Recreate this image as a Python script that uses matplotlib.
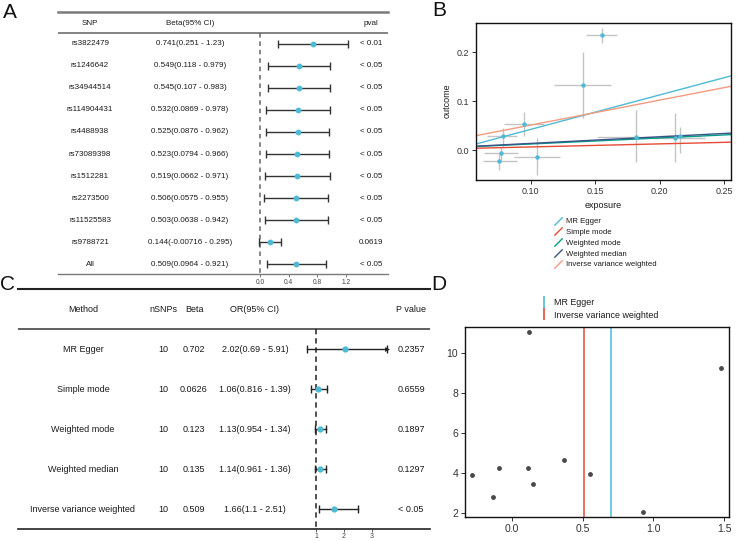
import matplotlib
matplotlib.use('Agg')
import matplotlib.pyplot as plt
import numpy as np
from matplotlib.lines import Line2D
from matplotlib.path import Path
from matplotlib.transforms import blended_transform_factory

plt.rcParams['font.family'] = ['Liberation Sans', 'DejaVu Sans']

# ---------------- data ----------------
# Panel A: single SNP forest
snps_A = ["rs3822479", "rs1246642", "rs34944514", "rs114904431", "rs4488938",
          "rs73089398", "rs1512281", "rs2273500", "rs11525583", "rs9788721", "All"]
beta_A = [0.741, 0.549, 0.545, 0.532, 0.525, 0.523, 0.519, 0.506, 0.503, 0.144, 0.509]
lo_A = [0.251, 0.118, 0.107, 0.0869, 0.0876, 0.0794, 0.0662, 0.0575, 0.0638, -0.00716, 0.0964]
hi_A = [1.23, 0.979, 0.983, 0.978, 0.962, 0.966, 0.971, 0.955, 0.942, 0.295, 0.921]
ci_text_A = ["0.741(0.251 - 1.23)", "0.549(0.118 - 0.979)", "0.545(0.107 - 0.983)",
             "0.532(0.0869 - 0.978)", "0.525(0.0876 - 0.962)", "0.523(0.0794 - 0.966)",
             "0.519(0.0662 - 0.971)", "0.506(0.0575 - 0.955)", "0.503(0.0638 - 0.942)",
             "0.144(-0.00716 - 0.295)", "0.509(0.0964 - 0.921)"]
pval_A = ["< 0.01", "< 0.05", "< 0.05", "< 0.05", "< 0.05", "< 0.05", "< 0.05",
          "< 0.05", "< 0.05", "0.0619", "< 0.05"]
ticks_A = [0.0, 0.4, 0.8, 1.2]

# Panel B: scatter
bx = [0.155, 0.1406, 0.0948, 0.078, 0.0765, 0.075, 0.105, 0.182, 0.2123, 0.2155]
bx_lo = [0.143, 0.118, 0.079, 0.0656, 0.0638, 0.0625, 0.0868, 0.151, 0.195, 0.200]
bx_hi = [0.167, 0.1626, 0.110, 0.089, 0.090, 0.0889, 0.123, 0.218, 0.235, 0.232]
by = [0.234, 0.132, 0.053, 0.0285, -0.0068, -0.0217, -0.0136, 0.027, 0.0245, 0.028]
by_lo = [0.218, 0.066, 0.028, 0.007, -0.020, -0.041, -0.051, -0.025, -0.025, -0.006]
by_hi = [0.249, 0.199, 0.077, 0.044, 0.007, -0.008, 0.024, 0.081, 0.075, 0.047]
methods = ["MR Egger", "Simple mode", "Weighted mode", "Weighted median",
           "Inverse variance weighted"]
slopes = [0.702, 0.0626, 0.123, 0.135, 0.509]
intercepts = [-0.028, 0.0, 0.0, 0.0, 0.0]
method_colors = ["#4DBBD5", "#E64B35", "#00A087", "#3C5488", "#F39B7F"]

# Panel C: method forest
nsnp_C = ["10", "10", "10", "10", "10"]
beta_C = ["0.702", "0.0626", "0.123", "0.135", "0.509"]
or_C = [2.02, 1.06, 1.13, 1.14, 1.66]
or_lo_C = [0.69, 0.816, 0.954, 0.961, 1.1]
or_hi_C = [5.91, 1.39, 1.34, 1.36, 2.51]
or_text_C = ["2.02(0.69 - 5.91)", "1.06(0.816 - 1.39)", "1.13(0.954 - 1.34)",
             "1.14(0.961 - 1.36)", "1.66(1.1 - 2.51)"]
pval_C = ["0.2357", "0.6559", "0.1897", "0.1297", "< 0.05"]
ticks_C = [1, 2, 3]
xmax_C = 3.55

# Panel D: funnel
dx = [0.122, 1.48, -0.281, -0.132, -0.092, 0.113, 0.146, 0.366, 0.552, 0.925]
dy = [11.03, 9.27, 3.92, 2.79, 4.25, 4.25, 3.44, 4.67, 3.95, 2.07]
funnel_methods = ["MR Egger", "Inverse variance weighted"]
funnel_est = [0.702, 0.509]
funnel_colors = ["#4DBBD5", "#E64B35"]

# ---------------- figure ----------------
W, H = 741, 541
fig = plt.figure(figsize=(W / 100, H / 100), dpi=100)


def rect(x0, y0, x1, y1):
    return [x0 / W, 1 - y1 / H, (x1 - x0) / W, (y1 - y0) / H]


TXT = "#1a1a1a"
PT_COL = "#4DBBD5"

# ---------- Panel A ----------
axA = fig.add_axes(rect(58, 12, 388, 274))
sc = 71.67
axA.set_xlim((58 - 260) / sc, (388 - 260) / sc)
axA.set_ylim(10.4545, -1.4545)
for s in ["left", "right"]:
    axA.spines[s].set_visible(False)
axA.spines["top"].set_color("#7a7a7a")
axA.spines["top"].set_linewidth(1.8)
axA.spines["bottom"].set_color("#7a7a7a")
axA.spines["bottom"].set_linewidth(1.0)
axA.axhline(-0.5, color="#7a7a7a", lw=1.3)
axA.set_yticks([])
axA.set_xticks(ticks_A)
axA.set_xticklabels([f"{t:.1f}" for t in ticks_A], fontsize=4.8, color="#444")
axA.tick_params(axis="x", length=2, width=0.6, color="#666", pad=1.5)
rowsA = np.arange(len(snps_A))
axA.vlines(0, -0.5, 10.4545, colors="#666", linestyles=(0, (3, 2.5)), lw=1.1)
bA = np.array(beta_A)
axA.errorbar(bA, rowsA, xerr=[bA - np.array(lo_A), np.array(hi_A) - bA], fmt="none",
             ecolor="#333", elinewidth=1.0, capsize=3, capthick=1.0)
axA.plot(bA, rowsA, "o", color=PT_COL, ms=4.2, mec="none", zorder=5)
trA = blended_transform_factory(axA.transAxes, axA.transData)
hdr_y = -0.9545
axA.text((90 - 58) / 330, hdr_y, "SNP", transform=trA, ha="center", va="center", fontsize=5.8, color=TXT)
axA.text((190 - 58) / 330, hdr_y, "Beta(95% CI)", transform=trA, ha="center", va="center", fontsize=5.8, color=TXT)
axA.text((371 - 58) / 330, hdr_y, "pval", transform=trA, ha="center", va="center", fontsize=5.8, color=TXT)
for i in range(len(snps_A)):
    axA.text((90 - 58) / 330, i, snps_A[i], transform=trA, ha="center", va="center", fontsize=5.8, color=TXT)
    axA.text((190 - 58) / 330, i, ci_text_A[i], transform=trA, ha="center", va="center", fontsize=5.8, color=TXT)
    axA.text((371 - 58) / 330, i, pval_A[i], transform=trA, ha="center", va="center", fontsize=5.8, color=TXT)

# ---------- Panel C ----------
axC = fig.add_axes(rect(18, 289, 430, 529))
scC = 28.0
axC.set_xlim(1 + (18 - 316) / scC, 1 + (430 - 316) / scC)
axC.set_ylim(4.5, -1.5)
for s in ["left", "right"]:
    axC.spines[s].set_visible(False)
axC.spines["top"].set_color("#222")
axC.spines["top"].set_linewidth(1.5)
axC.spines["bottom"].set_color("#222")
axC.spines["bottom"].set_linewidth(1.2)
axC.axhline(-0.5, color="#444", lw=1.2)
axC.set_yticks([])
axC.set_xticks(ticks_C)
axC.set_xticklabels([str(t) for t in ticks_C], fontsize=5, color="#444")
axC.tick_params(axis="x", length=2, width=0.6, color="#444", pad=1)
rowsC = np.arange(len(or_C))
axC.vlines(1, -0.5, 4.5, colors="#222", linestyles=(0, (3.5, 2.5)), lw=1.1)
for i in range(len(or_C)):
    lo = or_lo_C[i]
    hi = min(or_hi_C[i], xmax_C)
    axC.plot([lo, hi], [i, i], color="#222", lw=1.0)
    axC.plot([lo], [i], marker="|", ms=6, mew=1.0, color="#222")
    if or_hi_C[i] > xmax_C:
        axC.plot([hi], [i], marker=">", ms=3.5, mew=0, color="#222")
    axC.plot([hi], [i], marker="|", ms=6, mew=1.0, color="#222")
axC.plot(or_C, rowsC, "o", color=PT_COL, ms=4.5, mec="none", zorder=5)
trC = blended_transform_factory(axC.transAxes, axC.transData)
colsC = [(83 - 18) / 412, (163 - 18) / 412, (194 - 18) / 412, (255 - 18) / 412, (411 - 18) / 412]
headersC = ["Method", "nSNPs", "Beta", "OR(95% CI)", "P value"]
for cx, h in zip(colsC, headersC):
    axC.text(cx, -1, h, transform=trC, ha="center", va="center", fontsize=6.5, color=TXT)
for i in range(len(or_C)):
    vals = [methods[i], nsnp_C[i], beta_C[i], or_text_C[i], pval_C[i]]
    for cx, v in zip(colsC, vals):
        axC.text(cx, i, v, transform=trC, ha="center", va="center", fontsize=6.5, color=TXT)

# ---------- Panel B ----------
axB = fig.add_axes(rect(476, 23, 731, 180))
axB.set_xlim(0.0574, 0.2554)
axB.set_ylim(-0.0612, 0.2592)
bxa, bya = np.array(bx), np.array(by)
axB.errorbar(bxa, bya, xerr=[bxa - np.array(bx_lo), np.array(bx_hi) - bxa],
             yerr=[bya - np.array(by_lo), np.array(by_hi) - bya], fmt="none",
             ecolor="#c4c4c4", elinewidth=1.0, capsize=0, zorder=1)
for m, s, b, c in zip(methods, slopes, intercepts, method_colors):
    axB.axline((0, b), slope=s, color=c, lw=1.0, zorder=2)
axB.plot(bxa, bya, "o", color=PT_COL, ms=3.2, mec="none", zorder=3)
axB.set_xticks([0.10, 0.15, 0.20, 0.25])
axB.set_xticklabels(["0.10", "0.15", "0.20", "0.25"])
axB.set_yticks([0.0, 0.1, 0.2])
axB.set_yticklabels(["0.0", "0.1", "0.2"])
axB.tick_params(labelsize=6.5, labelcolor="#333", length=3, width=0.7, color="#333", pad=2)
for s in axB.spines.values():
    s.set_linewidth(1.0)
    s.set_color("#111")
fig.text(603 / W, 1 - 205 / H, "exposure", ha="center", va="center", fontsize=6.5, color=TXT)
fig.text(447 / W, 1 - 101 / H, "outcome", ha="center", va="center", rotation=90, fontsize=6.5, color=TXT)
slash = Path([(-1, -1), (1, 1)], [Path.MOVETO, Path.LINETO])
hB = [Line2D([], [], color=c, marker=slash, linestyle="None", ms=6, mew=1.0)
      for c in method_colors]
fig.legend(hB, methods, loc="upper left", bbox_to_anchor=(554 / W, 1 - 218 / H),
           frameon=False, fontsize=5.6, handlelength=1.0, handletextpad=0.5,
           labelspacing=0.42, borderpad=0, borderaxespad=0, labelcolor=TXT)

# ---------- Panel D ----------
axD = fig.add_axes(rect(465, 327, 729, 517))
axD.set_xlim(-0.333, 1.535)
axD.set_ylim(1.8, 11.3)
for e, c in zip(funnel_est, funnel_colors):
    axD.axvline(e, color=c, lw=1.1, zorder=1)
axD.plot(dx, dy, "o", color="#4a4a4a", ms=3.5, mec="none", zorder=3)
axD.set_xticks([0.0, 0.5, 1.0, 1.5])
axD.set_xticklabels(["0.0", "0.5", "1.0", "1.5"])
axD.set_yticks([2, 4, 6, 8, 10])
axD.tick_params(labelsize=7.5, labelcolor="#333", length=3, width=0.7, color="#333", pad=2)
for s in axD.spines.values():
    s.set_linewidth(1.0)
    s.set_color("#111")
hD = [Line2D([], [], color=c, marker="|", linestyle="None", ms=8, mew=1.2) for c in funnel_colors]
fig.legend(hD, funnel_methods, loc="upper left", bbox_to_anchor=(540 / W, 1 - 298 / H),
           frameon=False, fontsize=6.4, handlelength=1.0, handletextpad=0.6,
           labelspacing=0.4, borderpad=0, borderaxespad=0, labelcolor=TXT)

# ---------- panel labels ----------
for lab, x, y in [("A", 3, 12), ("B", 432, 10), ("C", 0, 285), ("D", 431, 284)]:
    fig.text(x / W, 1 - y / H, lab, ha="left", va="center", fontsize=15, color="#111")

fig.savefig("out.png", dpi=100)
